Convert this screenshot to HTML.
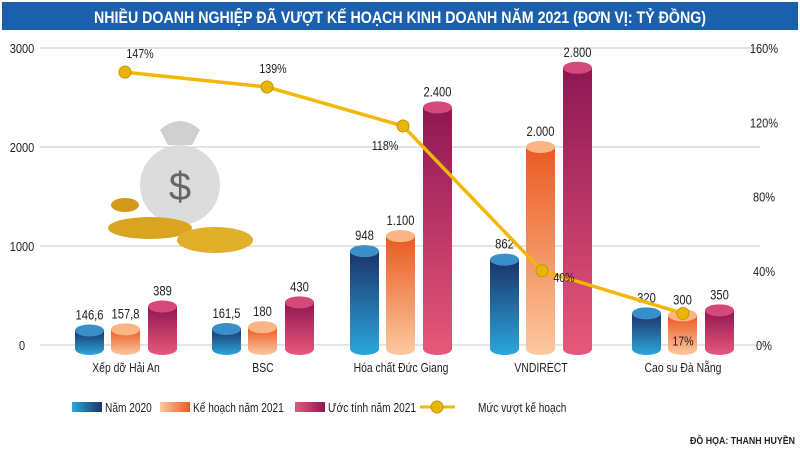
<!DOCTYPE html>
<html><head><meta charset="utf-8"><style>
body{margin:0;background:#fff;width:800px;height:457px;overflow:hidden;font-family:"Liberation Sans",sans-serif}
</style></head><body>
<svg id="c" width="800" height="457" xmlns="http://www.w3.org/2000/svg">
<defs>
<linearGradient id="gb" x1="0" x2="0" y1="0" y2="1"><stop offset="0" stop-color="#1c3368"/><stop offset="1" stop-color="#2aa8dc"/></linearGradient>
<linearGradient id="go" x1="0" x2="0" y1="0" y2="1"><stop offset="0" stop-color="#ea5a22"/><stop offset="1" stop-color="#fcc9a0"/></linearGradient>
<linearGradient id="gp" x1="0" x2="0" y1="0" y2="1"><stop offset="0" stop-color="#8e1753"/><stop offset="1" stop-color="#e8587a"/></linearGradient>
<linearGradient id="lb" x1="0" x2="1"><stop offset="0" stop-color="#2aa8dc"/><stop offset="1" stop-color="#1c3368"/></linearGradient>
<linearGradient id="lo" x1="0" x2="1"><stop offset="0" stop-color="#fcc9a0"/><stop offset="1" stop-color="#ea5a22"/></linearGradient>
<linearGradient id="lp" x1="0" x2="1"><stop offset="0" stop-color="#e8587a"/><stop offset="1" stop-color="#8e1753"/></linearGradient>
</defs>
<rect x="2" y="2" width="796" height="28" fill="#1b60ad"/>
<text x="400" y="23" text-anchor="middle" fill="#fff" font-size="17" font-weight="bold" textLength="612" lengthAdjust="spacingAndGlyphs">NHIỀU DOANH NGHIỆP ĐÃ VƯỢT KẾ HOẠCH KINH DOANH NĂM 2021 (ĐƠN VỊ: TỶ ĐỒNG)</text>
<g id="grid"></g>
<g>
<ellipse cx="180" cy="185" rx="40" ry="40" fill="#dcdcdc"/>
<path d="M160 130 Q180 112 200 130 L192 145 L168 145 Z" fill="#d0d0d0"/>
<text x="180" y="200" text-anchor="middle" font-size="40" fill="#666">$</text>
<ellipse cx="150" cy="228" rx="42" ry="11" fill="#d9a520"/>
<ellipse cx="215" cy="240" rx="38" ry="13" fill="#e0b02a"/>
<ellipse cx="125" cy="205" rx="14" ry="7" fill="#d19a1a"/>
</g>
<g id="bars"></g><g id="line"></g><g id="legend"></g>
<text x="795" y="444" text-anchor="end" font-size="10" font-weight="bold" fill="#222" textLength="105" lengthAdjust="spacingAndGlyphs">ĐỒ HỌA: THANH HUYỀN</text>
</svg>
<script>
const categories=["Xếp dỡ Hải An","BSC","Hóa chất Đức Giang","VNDIRECT","Cao su Đà Nẵng"];
const v2020=[146.6,161.5,948,862,320];
const plan2021=[157.8,180,1100,2000,300];
const est2021=[389,430,2400,2800,350];
const labels2020=["146,6","161,5","948","862","320"];
const labelsPlan=["157,8","180","1.100","2.000","300"];
const labelsEst=["389","430","2.400","2.800","350"];
const pct=[147,139,118,40,17];
const leftTicks=[0,1000,2000,3000];
const rightTicks=[0,40,80,120,160];
const NS="http://www.w3.org/2000/svg";
const y0=345,yTop=48;
const yL=v=>y0-v/3000*(y0-yTop);
const yR=v=>y0-v/160*(y0-yTop);
const groupX=[75,212,350,490,632];
const lineX=[125,267,403,542,683];
function mk(p,t,a){const e=document.createElementNS(NS,t);for(const k in a)e.setAttribute(k,a[k]);p.appendChild(e);return e;}
function squeeze(t,f){const w=t.getComputedTextLength();t.setAttribute('textLength',(w*f).toFixed(1));t.setAttribute('lengthAdjust','spacingAndGlyphs');}
const grid=document.getElementById('grid');
leftTicks.forEach((t,i)=>{
 if(t>0){const l=mk(grid,'line',{x1:40,x2:760,y1:yL(t),y2:yL(t),stroke:'#c8c8c8','stroke-width':1});
 }
 const tx=mk(grid,'text',{x:22,y:yL(t)+5,'text-anchor':'middle','font-size':13,fill:'#222'});tx.textContent=t;
 squeeze(tx,0.85);
});
const bl=mk(grid,'line',{x1:40,x2:760,y1:y0,y2:y0,stroke:'#c8c8c8'});

rightTicks.forEach(t=>{const tx=mk(grid,'text',{x:764,y:yR(t)+5,'text-anchor':'middle','font-size':13,fill:'#222'});tx.textContent=t+'%';
 squeeze(tx,0.85);});
const bars=document.getElementById('bars');
const series=[[v2020,labels2020,'url(#gb)','#3a8fc8',0],[plan2021,labelsPlan,'url(#go)','#fbb585',36],[est2021,labelsEst,'url(#gp)','#d4497a',73]];
categories.forEach((c,i)=>{
 series.forEach((s,j)=>{
  const x=groupX[i]+s[4],w=29,ry=6;
  const ty=Math.min(yL(s[0][i]),y0-12),by=y0+4;
  const g=mk(bars,'g',{});
  
  mk(g,'path',{d:`M${x} ${ty} L${x} ${by} A${w/2} ${ry} 0 0 0 ${x+w} ${by} L${x+w} ${ty} Z`,fill:s[2]});
  mk(g,'ellipse',{cx:x+w/2,cy:ty,rx:w/2,ry:ry,fill:s[3]});
  const t=mk(bars,'text',{x:x+w/2,y:ty-11,'text-anchor':'middle','font-size':14,fill:'#222'});t.textContent=s[1][i];
  squeeze(t,0.8);
 });
 const ct=mk(bars,'text',{x:groupX[i]+51,y:372,'text-anchor':'middle','font-size':13,fill:'#222'});ct.textContent=c;
 squeeze(ct,0.8);
});
const lg=document.getElementById('line');
const pl=mk(lg,'polyline',{points:pct.map((p,i)=>lineX[i]+','+yR(p)).join(' '),fill:'none',stroke:'#f2b705','stroke-width':3.5});

const off=[[15,-18],[6,-18],[-18,20],[22,7],[0,28]];
pct.forEach((p,i)=>{
 const c=mk(lg,'circle',{cx:lineX[i],cy:yR(p),r:6,fill:'#e9b50a',stroke:'#c99400'});
 
 const t=mk(lg,'text',{x:lineX[i]+off[i][0],y:yR(p)+off[i][1]+4,'text-anchor':'middle','font-size':13,fill:'#222'});t.textContent=p+'%';
 squeeze(t,0.82);
});
const leg=document.getElementById('legend');
[['url(#lb)',72,'Năm 2020'],['url(#lo)',160,'Kế hoạch năm 2021'],['url(#lp)',295,'Ước tính năm 2021']].forEach(l=>{
 const r=mk(leg,'rect',{x:l[1],y:402,width:30,height:10,fill:l[0]});
 
 const t=mk(leg,'text',{x:l[1]+33,y:412,'font-size':13,fill:'#222'});t.textContent=l[2];
 squeeze(t,0.78);
});
const ll=mk(leg,'line',{x1:420,x2:455,y1:407,y2:407,stroke:'#f2b705','stroke-width':3});

const lc=mk(leg,'circle',{cx:437,cy:407,r:6,fill:'#e9b50a',stroke:'#c99400'});

const lt=mk(leg,'text',{x:478,y:412,'font-size':13,fill:'#222'});lt.textContent='Mức vượt kế hoạch';
squeeze(lt,0.78);
</script>
</body></html>
